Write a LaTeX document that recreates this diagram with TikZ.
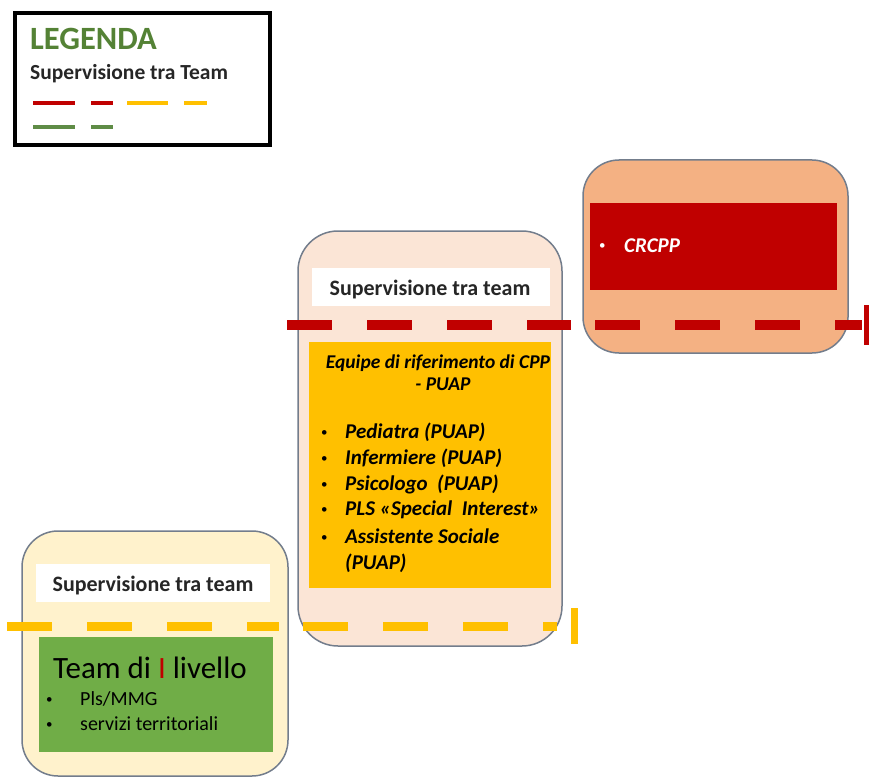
\documentclass[tikz,border=0pt]{standalone}
\usepackage{fontspec}
\setmainfont{Carlito}
\definecolor{crred}{HTML}{C00000}
\definecolor{cppyellow}{HTML}{FFC000}
\definecolor{teamgreen}{HTML}{70AD47}
\definecolor{legendgreen}{HTML}{548235}
\definecolor{leggreen}{RGB}{95,140,70}
\definecolor{salmon}{HTML}{F4B183}
\definecolor{peach}{HTML}{FBE5D6}
\definecolor{cream}{HTML}{FFF2CC}
\definecolor{panelgray}{RGB}{115,125,140}
\definecolor{txtdark}{RGB}{38,38,38}
\tikzset{
  panel/.style={draw=panelgray, line width=1.5pt, rounded corners=36pt},
  headlbl/.style={font=\fontsize{22}{26}\selectfont\bfseries, text=txtdark, anchor=base, inner sep=0pt},
  item/.style={font=\fontsize{21}{25}\selectfont\bfseries\itshape, anchor=base west, inner sep=0pt},
  plain/.style={font=\fontsize{20}{24}\selectfont, anchor=base west, inner sep=0pt},
  dot/.style={font=\fontsize{13}{16}\selectfont, anchor=base west, inner sep=0pt},
  legline/.style={line width=4pt},
  reddash/.style={draw=crred, line width=10pt, dash pattern=on 44.5pt off 35.5pt},
  yeldash/.style={draw=cppyellow, line width=9pt, dash pattern=on 45pt off 35pt},
}
\begin{document}
\begin{tikzpicture}[x=1pt,y=-1pt]
\useasboundingbox (0,0) rectangle (869,778);

% legend
\draw[line width=3.5pt] (15,13) rectangle (270,145);
\node[anchor=base west, inner sep=0pt, font=\fontsize{32.5}{38}\selectfont\bfseries, text=legendgreen] (legtitle) at (30,50) {LEGENDA};
\node[anchor=base west, inner sep=0pt, font=\fontsize{21.5}{25}\selectfont\bfseries, text=txtdark] (legsub) at (30,80) {Supervisione tra Team};
\draw[legline, draw=crred] (33,103) -- (75,103);
\draw[legline, draw=crred] (91,103) -- (113,103);
\draw[legline, draw=cppyellow] (127,103) -- (168,103);
\draw[legline, draw=cppyellow] (184,103) -- (207,103);
\draw[legline, draw=leggreen] (33,127) -- (75,127);
\draw[legline, draw=leggreen] (91,127) -- (113,127);

% panels
\draw[panel, fill=salmon] (583,160) rectangle (848,353);
\draw[panel, fill=peach, rounded corners=40pt] (298,231) rectangle (562,646);
\draw[panel, fill=cream] (22,531) rectangle (288,776);

% inner blocks
\fill[crred] (590,203) rectangle (837,290);
\fill[white] (312,268) rectangle (550,306);
\fill[cppyellow] (309,342) rectangle (551,588);
\fill[white] (36,564) rectangle (270,602);
\fill[teamgreen] (39,637) rectangle (273,752);

% supervision lines
\draw[reddash] (287,325) -- (571,325);
\draw[reddash] (595,325) -- (862,325);
\draw[draw=crred, line width=5pt] (866,305) -- (866,345);
\draw[yeldash] (7,626) -- (279,626);
\draw[yeldash] (303,626) -- (557,626);
\draw[draw=cppyellow, line width=7pt] (574,608) -- (574,644);

% CRCPP
\node[dot, text=white] (crbul) at (599,249) {•};
\node[item, text=white] (crcpp) at (624,252) {CRCPP};

% middle team
\node[headlbl] (supmid) at (430,295) {Supervisione tra team};
\node[item, anchor=base, font=\fontsize{19.5}{24}\selectfont\bfseries\itshape] (equipe) at (438,368) {Equipe di riferimento di CPP};
\node[item, anchor=base, font=\fontsize{19.5}{24}\selectfont\bfseries\itshape] (puap) at (443,390) {- PUAP};
\node[dot] (bu1) at (321,436) {•};
\node[item] (it1) at (345,438) {Pediatra (PUAP)};
\node[dot] (bu2) at (321,462) {•};
\node[item] (it2) at (345,464) {Infermiere (PUAP)};
\node[dot] (bu3) at (321,488) {•};
\node[item] (it3) at (345,490) {Psicologo\ \ (PUAP)};
\node[dot] (bu4) at (321,513) {•};
\node[item] (it4) at (345,515) {PLS «Special\ \ Interest»};
\node[dot] (bu5) at (321,541) {•};
\node[item] (it5) at (345,543) {Assistente Sociale};
\node[item] (it6) at (345,569) {(PUAP)};

% first-level team
\node[headlbl] (supleft) at (153,591) {Supervisione tra team};
\node[plain, font=\fontsize{31}{36}\selectfont] (team) at (53,678) {Team di \textcolor{crred}{I} livello};
\node[dot] (bu6) at (46,703) {•};
\node[plain] (pls) at (80,705) {Pls/MMG};
\node[dot] (bu7) at (46,728) {•};
\node[plain] (serv) at (80,730) {servizi territoriali};
\end{tikzpicture}
\end{document}
